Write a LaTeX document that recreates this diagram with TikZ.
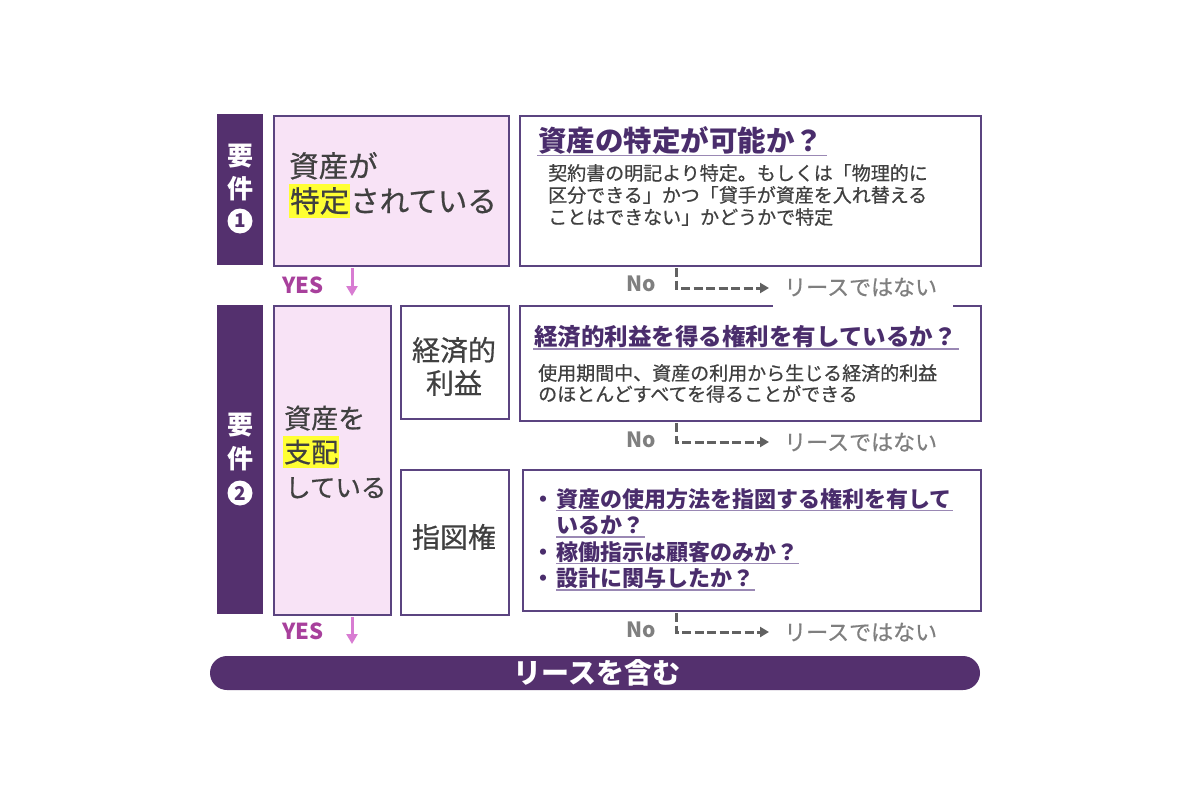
\documentclass[tikz,border=0pt]{standalone}
\usepackage{fontspec}
\setmainfont{Noto Sans CJK JP}
\newfontfamily\medfont{Noto Sans CJK JP}[FakeBold=0.6]
\usetikzlibrary{arrows.meta,calc}
\definecolor{darkpurple}{HTML}{54306E}
\definecolor{borderpurple}{HTML}{5B4480}
\definecolor{pinkfill}{HTML}{F8E3F6}
\definecolor{headpurple}{HTML}{4A2D6C}
\definecolor{ulpurple}{HTML}{9A88B4}
\definecolor{bodygray}{HTML}{404040}
\definecolor{labelgray}{HTML}{7F7F7F}
\definecolor{arrowgray}{HTML}{616161}
\definecolor{yesmagenta}{HTML}{A8409C}
\definecolor{yespink}{HTML}{D87CD2}
\definecolor{hlyellow}{HTML}{FFFF33}
\newcommand{\hlt}[1]{{\setlength{\fboxsep}{1pt}\colorbox{hlyellow}{\rule[-0.16em]{0pt}{1.08em}#1}}}
\begin{document}
\begin{tikzpicture}[x=1pt,y=-1pt,
  frame/.style={draw=borderpurple, line width=2.2pt, fill=white, inner sep=0pt, anchor=north west},
  pinkframe/.style={frame, fill=pinkfill},
  reqbar/.style={fill=darkpurple, inner sep=0pt, anchor=north west},
  reqchar/.style={text=white, font=\fontsize{26}{26}\selectfont\bfseries, inner sep=0pt, anchor=base},
  reqnum/.style={circle, fill=white, inner sep=0pt, minimum size=25pt, text=darkpurple, font=\fontsize{19}{19}\selectfont\bfseries},
  bigtext/.style={text=bodygray, font=\fontsize{29.5}{29.5}\selectfont\medfont, inner sep=0pt, anchor=base west},
  midtext/.style={text=bodygray, font=\fontsize{27}{27}\selectfont\medfont, inner sep=0pt, anchor=base west},
  smalltext/.style={text=bodygray, font=\fontsize{25.5}{25.5}\selectfont\medfont, inner sep=0pt, anchor=base west},
  cattext/.style={text=bodygray, font=\fontsize{28}{28}\selectfont\medfont, inner sep=0pt, anchor=base},
  headA/.style={text=headpurple, font=\fontsize{28.5}{28.5}\selectfont\bfseries, inner sep=0pt, anchor=base west},
  headB/.style={text=headpurple, font=\fontsize{23.5}{23.5}\selectfont\bfseries, inner sep=0pt, anchor=base west},
  bullet/.style={text=headpurple, font=\fontsize{22}{22}\selectfont\bfseries, inner sep=0pt, anchor=base west},
  bodytext/.style={text=bodygray, font=\fontsize{19}{19}\selectfont\medfont, inner sep=0pt, anchor=base west},
  uline/.style={draw=ulpurple, line width=1.5pt},
  nolabel/.style={text=labelgray, font=\fontsize{21}{21}\selectfont\bfseries, inner sep=0pt, anchor=base west},
  notlease/.style={text=labelgray, font=\fontsize{22}{22}\selectfont\medfont, inner sep=0pt, anchor=base west},
  noarrow/.style={draw=arrowgray, line width=3pt, dash pattern=on 9pt off 3.5pt, -{Triangle[length=9pt,width=10pt]}},
  yestext/.style={text=yesmagenta, font=\fontsize{22}{22}\selectfont\bfseries, inner sep=0pt, anchor=base west},
  yesarrow/.style={draw=yespink, line width=3pt, -{Triangle[length=10pt,width=11pt]}}
]
\useasboundingbox[fill=white] (0,0) rectangle (1200,800);

% requirement bars
\node[reqbar, minimum width=46pt, minimum height=151pt] (req1) at (217,114) {};
\node[reqbar, minimum width=46pt, minimum height=309pt] (req2) at (217,305) {};
\node[reqchar] (req1a) at (240,165) {要};
\node[reqchar] (req1b) at (240,198) {件};
\node[reqnum] (req1c) at (240,221) {1};
\node[reqchar] (req2a) at (240,434) {要};
\node[reqchar] (req2b) at (240,468) {件};
\node[reqnum] (req2c) at (240,493) {2};

% frames
\node[pinkframe, minimum width=235pt, minimum height=150pt] (p1) at (273,115) {};
\node[frame, minimum width=461pt, minimum height=150pt] (r1) at (519,115) {};
\node[pinkframe, minimum width=117pt, minimum height=309pt] (p2) at (273,305) {};
\node[frame, minimum width=108pt, minimum height=113pt] (e1) at (400,305) {};
\node[frame, minimum width=461pt, minimum height=115pt] (r2) at (519,305) {};
\node[frame, minimum width=108pt, minimum height=145pt] (s1) at (400,469) {};
\node[frame, minimum width=458pt, minimum height=141pt] (r3) at (522,469) {};

% requirement 1 texts
\node[bigtext] (p1a) at (289,177) {資産が};
\node[bigtext] (p1b) at (289,212) {\hlt{特定}されている};

\node[headA] (h1) at (538,151.8) {資産の特定が可能か？};
\draw[uline] ($(h1.base west)+(-1,3.5)$) -- ($(h1.base east)+(4,3.5)$);
\node[bodytext] (b1a) at (548,180.2) {契約書の明記より特定。もしくは「物理的に};
\node[bodytext] (b1b) at (548,202.2) {区分できる」かつ「貸手が資産を入れ替える};
\node[bodytext] (b1c) at (548,224.2) {ことはできない」かどうかで特定};

% requirement 2 texts
\node[midtext] (p2a) at (284,428.3) {資産を};
\node[midtext] (p2b) at (283,462.3) {\hlt{支配}};
\node[smalltext] (p2c) at (285,497) {している};

\node[cattext] (e1a) at (454,360.6) {経済的};
\node[cattext] (e1b) at (454,393.6) {利益};
\node[cattext] (s1a) at (454,547.6) {指図権};

\node[headB] (h2) at (534,345.9) {経済的利益を得る権利を有しているか？};
\draw[uline] ($(h2.base west)+(-1,3)$) -- ($(h2.base east)+(2,3)$);
\node[bodytext] (b2a) at (538,380.2) {使用期間中、資産の利用から生じる経済的利益};
\node[bodytext] (b2b) at (538,401.2) {のほとんどすべてを得ることができる};

\node[bullet, anchor=base] (d1) at (543,507.4) {・};
\node[bullet] (u1) at (556,507.4) {資産の使用方法を指図する権利を有して};
\node[bullet] (u2) at (556,533.9) {いるか？};
\node[bullet, anchor=base] (d3) at (543,560.4) {・};
\node[bullet] (u3) at (556,560.4) {稼働指示は顧客のみか？};
\node[bullet, anchor=base] (d4) at (543,586.9) {・};
\node[bullet] (u4) at (556,586.9) {設計に関与したか？};
\draw[uline] ($(u1.base west)+(0,3)$) -- ($(u1.base east)+(1,3)$);
\draw[uline] ($(u2.base west)+(0,3)$) -- ($(u2.base east)+(1,3)$);
\draw[uline] ($(u3.base west)+(0,3)$) -- ($(u3.base east)+(1,3)$);
\draw[uline] ($(u4.base west)+(0,3)$) -- ($(u4.base east)+(1,3)$);

% No branches
\fill[white] (773,276) rectangle (953,307.5);
\path (r1.south west) ++(157,1) coordinate (n1s);
\coordinate (n1e) at (769,288);
\draw[noarrow] (n1s) |- (n1e);
\node[nolabel] (no1) at (626,291.7) {No};
\node[notlease] (nl1) at (784,295.4) {リースではない};

\path (r2.south west) ++(157,1) coordinate (n2s);
\coordinate (n2e) at (769,442);
\draw[noarrow] (n2s) |- (n2e);
\node[nolabel] (no2) at (626,447.7) {No};
\node[notlease] (nl2) at (784,450.4) {リースではない};

\path (r3.south west) ++(154,1) coordinate (n3s);
\coordinate (n3e) at (769,632);
\draw[noarrow] (n3s) |- (n3e);
\node[nolabel] (no3) at (626,637.7) {No};
\node[notlease] (nl3) at (784,640.4) {リースではない};

% YES arrows
\path (p1.south west) ++(79,1) coordinate (y1s);
\coordinate (y1e) at (352,296);
\draw[yesarrow] (y1s) -- (y1e);
\node[yestext] (yes1) at (282,293) {YES};
\path (p2.south west) ++(79,1) coordinate (y2s);
\coordinate (y2e) at (352,644);
\draw[yesarrow] (y2s) -- (y2e);
\node[yestext] (yes2) at (282,639) {YES};

% result bar
\node[fill=darkpurple, rounded corners=17pt, minimum width=770pt, minimum height=34pt, inner sep=0pt] (bar) at (595,673) {};
\node[text=white, font=\fontsize{28}{28}\selectfont\bfseries, inner sep=0pt, anchor=base] (bartext) at (597,683.6) {リースを含む};
\end{tikzpicture}
\end{document}
